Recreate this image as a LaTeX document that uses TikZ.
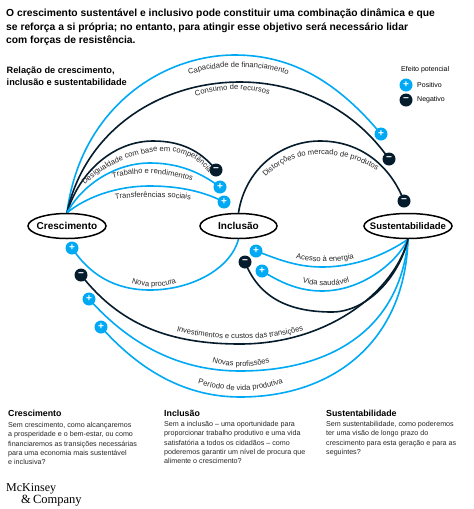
\documentclass[tikz,border=0pt]{standalone}
\usepackage{fontspec}
\setmainfont{Liberation Sans}
\newfontfamily\logofont{Liberation Serif}
\usetikzlibrary{shapes.geometric,decorations.text,backgrounds}
\definecolor{mckblue}{HTML}{00A9F4}
\definecolor{mckdark}{HTML}{051C2C}
\newcommand{\lblfont}{\fontsize{7.6}{9}\selectfont\color{black!85}}
\tikzset{
  x=1pt,y=-1pt,
  ell/.style={draw=black,line width=1.5pt,fill=white,ellipse,inner sep=-30pt,minimum height=25pt,font=\fontsize{10}{12}\selectfont\bfseries},
  badge/.style={circle,inner sep=0pt,minimum size=13pt,text=white,font=\fontsize{10}{10}\selectfont\bfseries},
  posbadge/.style={badge,fill=mckblue},
  negbadge/.style={badge,fill=mckdark},
  posline/.style={draw=mckblue,line width=1.6pt},
  negline/.style={draw=mckdark,line width=1.6pt},
  body/.style={anchor=north west,inner sep=0pt,align=left,font=\fontsize{7.15}{9.1}\selectfont,text=black!85},
  head/.style={anchor=base west,inner sep=0pt,font=\fontsize{8.8}{10}\selectfont\bfseries},
  titletext/.style={anchor=north west,inner sep=0pt,align=left,font=\fontsize{10.3}{13.3}\selectfont\bfseries},
}
\newcommand{\curvelabel}[2]{\path[decorate,decoration={text along path,text align=center,text={|\lblfont|#1}}] #2;}
\begin{document}
\begin{tikzpicture}
\useasboundingbox (0,0) rectangle (474,509);
\node[titletext] (ttl) at (6,9) {O crescimento sustentável e inclusivo pode constituir uma combinação dinâmica e que\\se reforça a si própria; no entanto, para atingir esse objetivo será necessário lidar\\com forças de resistência.};
\node[titletext,font=\fontsize{9.2}{12.5}\selectfont\bfseries] (sub) at (6.5,66.5) {Relação de crescimento,\\inclusão e sustentabilidade};
\node[anchor=west,inner sep=0pt,font=\fontsize{7}{8}\selectfont] (lg) at (401,70) {Efeito potencial};
\node[posbadge] (lp) at (406,85) {+};
\node[negbadge] (ln) at (406,100) {−};
\node[anchor=west,inner sep=0pt,font=\fontsize{7}{8}\selectfont] (lpt) at (417,85) {Positivo};
\node[anchor=west,inner sep=0pt,font=\fontsize{7}{8}\selectfont] (lnt) at (417,100) {Negativo};

\node[ell,minimum width=78pt] (cres) at (67,226) {Crescimento};
\node[ell,minimum width=77pt] (incl) at (238.5,226) {Inclusão};
\node[ell,minimum width=88pt,font=\fontsize{9.5}{12}\selectfont\bfseries] (sust) at (408,226) {Sustentabilidade};

\node[posbadge] (b1) at (381,134) {+};
\node[negbadge] (b2) at (389,159) {−};
\node[negbadge] (b3) at (216,170) {−};
\node[posbadge] (b4) at (220,187) {+};
\node[posbadge] (b5) at (224,202) {+};
\node[negbadge] (b6) at (404,201) {−};
\node[posbadge] (b7) at (72,248) {+};
\node[negbadge] (b8) at (81,275) {−};
\node[posbadge] (b9) at (89,299) {+};
\node[posbadge] (b10) at (101,327) {+};
\node[posbadge] (b11) at (256,251) {+};
\node[posbadge] (b12) at (262,271) {+};
\node[negbadge] (b13) at (245,262) {−};

\begin{pgfonlayer}{background}
\fill[white] (0,0) rectangle (474,509);
\draw[posline] (cres.north) .. controls (80,110) and (160,55) .. (235,55) .. controls (295,55) and (340,85) .. (b1.center);
\draw[negline] (cres.north) .. controls (85,130) and (160,82) .. (240,82) .. controls (300,82) and (355,110) .. (b2.center);
\draw[negline] (cres.north) .. controls (80,170) and (115,141) .. (153,141) .. controls (180,141) and (200,150) .. (b3.center);
\draw[posline] (cres.north) .. controls (82,185) and (115,163) .. (150,163) .. controls (178,163) and (200,172) .. (b4.center);
\draw[posline] (cres.north) .. controls (85,198) and (115,186) .. (150,186) .. controls (180,186) and (205,192) .. (b5.center);
\draw[negline] (incl.north) .. controls (245,170) and (280,141) .. (320,141) .. controls (360,141) and (390,165) .. (b6.center);
\draw[posline] (incl.south) .. controls (230,270) and (190,290) .. (150,290) .. controls (115,290) and (90,275) .. (b7.center);
\draw[negline] (sust.south) .. controls (395,290) and (330,344) .. (240,344) .. controls (170,344) and (120,325) .. (b8.center);
\draw[posline] (sust.south) .. controls (400,330) and (330,371) .. (240,371) .. controls (180,371) and (130,345) .. (b9.center);
\draw[posline] (sust.south) .. controls (405,340) and (335,397) .. (240,397) .. controls (180,397) and (135,365) .. (b10.center);
\draw[posline] (sust.south) .. controls (385,255) and (355,267) .. (322,267) .. controls (295,267) and (275,258) .. (b11.center);
\draw[posline] (sust.south) .. controls (395,265) and (360,291) .. (322,291) .. controls (298,291) and (280,282) .. (b12.center);
\draw[negline] (sust.south) .. controls (398,280) and (365,312) .. (332,312) .. controls (285,312) and (258,295) .. (b13.center);
\end{pgfonlayer}

\curvelabel{Capacidade de financiamento}{(186,76) .. controls (215,64) and (262,64) .. (291,76)}
\curvelabel{Consumo de recursos}{(193,98) .. controls (215,88) and (250,87) .. (272,96)}
\path[decorate,decoration={text along path,text align=fit to path,text={|\lblfont|Desigualdade com base em competências}}] (85,185) .. controls (112,156) and (180,133) .. (208,172);
\curvelabel{Trabalho e rendimentos}{(110,179) .. controls (130,172) and (165,171) .. (195,182)}
\curvelabel{Transferências sociais}{(113,200) .. controls (135,196) and (165,196) .. (193,200)}
\curvelabel{Distorções do mercado de produtos}{(263,180) .. controls (287,150) and (340,145) .. (380,173)}
\curvelabel{Nova procura}{(130,283) .. controls (145,288) and (165,288) .. (178,282)}
\curvelabel{Investimentos e custos das transições}{(173,330) .. controls (210,342) and (270,342) .. (307,329)}
\curvelabel{Novas profissões}{(211,362) .. controls (230,368) and (252,368) .. (271,362)}
\curvelabel{Período de vida produtiva}{(195,383) .. controls (225,393) and (257,393) .. (286,382)}
\curvelabel{Acesso à energia}{(294,258) .. controls (313,263) and (337,263) .. (356,258)}
\curvelabel{Vida saudável}{(301,282) .. controls (317,287) and (335,287) .. (351,282)}

\node[head] (h1) at (8,416) {Crescimento};
\node[head] (h2) at (164,416) {Inclusão};
\node[head] (h3) at (326,416) {Sustentabilidade};
\node[body] (t1) at (8,422.5) {Sem crescimento, como alcançaremos\\a prosperidade  e o bem-estar, ou como\\financiaremos as transições necessárias\\para uma economia mais sustentável\\e inclusiva?};
\node[body] (t2) at (164,421.5) {Sem a inclusão – uma oportunidade para\\proporcionar trabalho produtivo e uma vida\\satisfatória a todos os cidadãos – como\\poderemos garantir um nível de procura que\\alimente o crescimento?};
\node[body] (t3) at (326,421.5) {Sem sustentabilidade, como poderemos\\ter uma visão de longo prazo do\\crescimento para esta geração e para as\\seguintes?};
\node[anchor=base west,inner sep=0pt,font=\logofont\fontsize{12}{13}\selectfont] (m1) at (6,491) {McKinsey};
\node[anchor=base west,inner sep=0pt,font=\logofont\fontsize{12.5}{13}\selectfont] (m2) at (21,503) {\&\,Company};
\end{tikzpicture}
\end{document}
